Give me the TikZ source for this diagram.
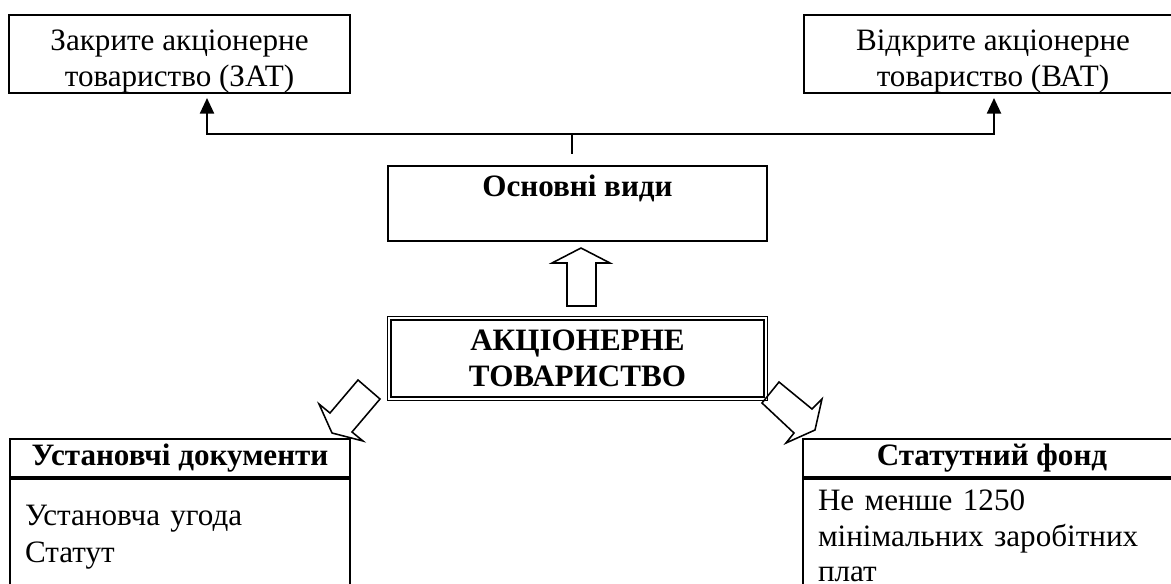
\documentclass[tikz,border=0pt]{standalone}
\usepackage{fontspec}
\setmainfont{Liberation Serif}
\usetikzlibrary{positioning,arrows.meta}
\tikzset{box/.style={draw, line width=0.9pt, inner sep=0pt, align=center, font=\fontsize{14}{16}\selectfont},
  body/.style={draw, line width=0.9pt, inner xsep=6.75pt, inner ysep=0pt, align=left, font=\fontsize{14}{16}\selectfont},
  blockarrow/.style={draw, line width=0.7pt, line join=miter}}

\begin{document}
\begin{tikzpicture}[x=0.45pt,y=-0.45pt]
        \useasboundingbox (0,0) rectangle (1171,583);
        \clip (0,0) rectangle (1171,583);
        % upper part
        \node[box, minimum width=153.45pt, minimum height=34.2pt] (zat) at (179.5,54) {\rule{0pt}{16pt}Закрите акціонерне\\товариство (ЗАТ)};
        \node[box, minimum width=170.1pt, minimum height=34.2pt] (vat) at (993,54) {\rule{0pt}{16pt}Відкрите акціонерне\\товариство (ВАТ)};
        \node[box, minimum width=170.55pt, minimum height=33.75pt] (vydy) at (577.5,203.5) {\bfseries Основні види\\~};
        \node[box, line width=0.6pt, double, double distance=0.9pt, minimum width=169.3pt, minimum height=36.1pt] (ak) at (577.5,358.5) {\bfseries АКЦІОНЕРНЕ\\\bfseries ТОВАРИСТВО};
        \coordinate (hub) at (572,134);
        \coordinate (zatin) at (207,98);
        \coordinate (vatin) at (994,98);
        \draw[line width=0.6pt] (hub) -- ++(0,20);
        \draw[line width=0.9pt, -{Triangle[length=7pt,width=6.3pt]}] (hub) -| (zatin);
        \draw[line width=0.9pt, -{Triangle[length=7pt,width=6.3pt]}] (hub) -| (vatin);
        % lower part
        \node[box, minimum width=153pt, minimum height=17.1pt] (ustdoc) at (180,458) {\bfseries Установчі документи};
        \node[body, text width=139.5pt, minimum height=52.2pt, below=0pt of ustdoc] (ustbody) {Установча угода\\[0.7pt]Статут};
        \node[box, minimum width=170.1pt, minimum height=17.1pt] (statf) at (992,458) {\bfseries Статутний фонд};
        \node[body, text width=156.6pt, minimum height=51.3pt, below=0pt of statf] (statbody) {Не менше 1250\\мінімальних заробітних\\плат};
        % block arrows
        \draw[blockarrow] (581,248) -- (610,263) -- (596,263) -- (596,306) -- (567,306) -- (567,263) -- (552,263) -- cycle;
        \draw[blockarrow] (358,380) -- (380,399) -- (352,432) -- (363,441) -- (332,433) -- (319,404) -- (330,413) -- cycle;
        \draw[blockarrow] (779,382) -- (812,409) -- (822,399) -- (815,430) -- (786,443) -- (794,433) -- (762,403) -- cycle;
\end{tikzpicture}
\end{document}
